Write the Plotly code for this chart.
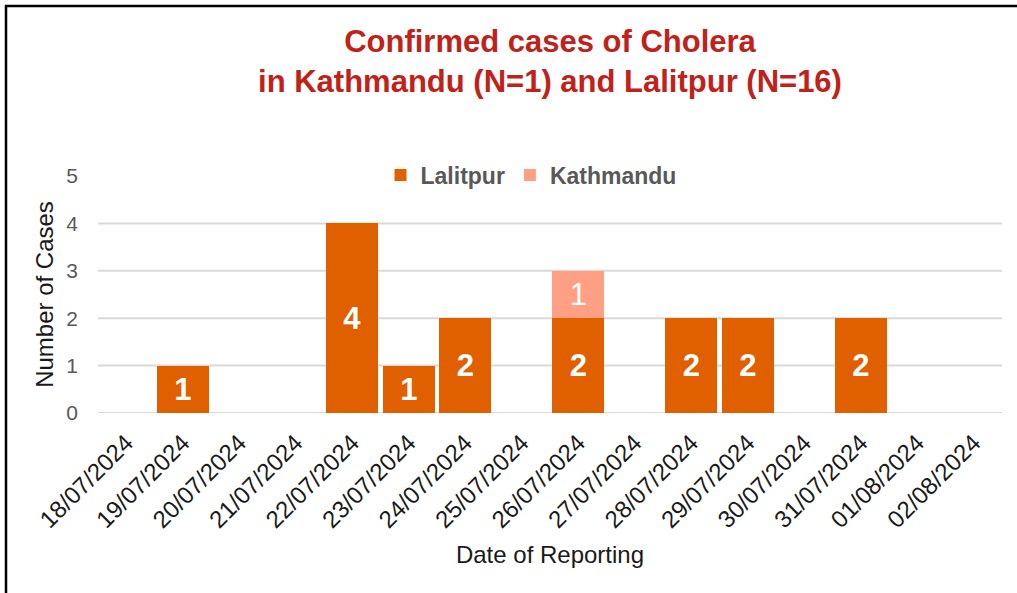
import plotly.graph_objects as go

dates = ["18/07/2024", "19/07/2024", "20/07/2024", "21/07/2024", "22/07/2024",
         "23/07/2024", "24/07/2024", "25/07/2024", "26/07/2024", "27/07/2024",
         "28/07/2024", "29/07/2024", "30/07/2024", "31/07/2024", "01/08/2024",
         "02/08/2024"]
lalitpur = [0, 1, 0, 0, 4, 1, 2, 0, 2, 0, 2, 2, 0, 2, 0, 0]
kathmandu = [0, 0, 0, 0, 0, 0, 0, 0, 1, 0, 0, 0, 0, 0, 0, 0]
y_ticks = [0, 1, 2, 3, 4, 5]

L, R, T, B = 98, 15, 176, 180
W, H = 1017, 593
pw, ph = W - L - R, H - T - B


def px(x):
    return (x - L) / pw


def py(y):
    return (H - B - y) / ph


fig = go.Figure()
fig.add_trace(go.Bar(
    x=dates, y=lalitpur, name="Lalitpur",
    marker=dict(color="#E06000", line=dict(width=0)),
    text=[str(v) if v else "" for v in lalitpur],
    textposition="inside", insidetextanchor="middle",
    textfont=dict(color="white", size=31, family="Liberation Sans", weight="bold"),
    textangle=0, constraintext="none",
))
fig.add_trace(go.Bar(
    x=dates, y=kathmandu, name="Kathmandu",
    marker=dict(color="#FFA084", line=dict(width=0)),
    text=[str(v) if v else "" for v in kathmandu],
    textposition="inside", insidetextanchor="middle",
    textfont=dict(color="white", size=31, family="Liberation Sans"),
    textangle=0, constraintext="none",
))

shapes = []
for v in y_ticks[:-1]:
    shapes.append(dict(type="line", xref="paper", yref="y", x0=0, x1=1, y0=v, y1=v,
                       line=dict(color="#D9D9D9", width=2), layer="below"))
# outer frame (top and left edges)
shapes.append(dict(type="line", xref="paper", yref="paper",
                   x0=px(5), x1=px(1017), y0=py(6), y1=py(6),
                   line=dict(color="black", width=2.5)))
shapes.append(dict(type="line", xref="paper", yref="paper",
                   x0=px(6), x1=px(6), y0=py(5), y1=py(600),
                   line=dict(color="black", width=2.5)))

fig.update_layout(
    width=W, height=H,
    margin=dict(l=L, r=R, t=T, b=B),
    paper_bgcolor="white", plot_bgcolor="white",
    barmode="stack", bargap=0.075,
    font=dict(family="Liberation Sans", color="#595959"),
    title=dict(
        text="Confirmed cases of Cholera<br>in Kathmandu (N=1) and Lalitpur (N=16)",
        x=0.5 * (L + W - R) / W, xref="container", xanchor="center",
        y=1 - 52 / H, yref="container", yanchor="top",
        font=dict(family="Liberation Sans", size=31, color="#C0221A", weight="bold"),
    ),
    legend=dict(
        orientation="h", x=0.479, xanchor="center", y=py(175), yanchor="middle",
        font=dict(size=23, color="#595959", weight="bold"),
        itemwidth=30, traceorder="normal", bgcolor="rgba(0,0,0,0)",
    ),
    xaxis=dict(
        type="category", tickangle=-45, showgrid=False, showline=False, zeroline=False,
        tickfont=dict(size=24, color="#1a1a1a"),
        title=dict(text="Date of Reporting", font=dict(size=24, color="#1a1a1a"), standoff=14),
        ticks="", ticklabelstandoff=10,
    ),
    yaxis=dict(
        range=[0, 5], tickvals=y_ticks, showgrid=False, zeroline=False, showline=False,
        tickfont=dict(size=21, color="#595959"),
        title=dict(text="Number of Cases", font=dict(size=24, color="#1a1a1a"), standoff=5),
        ticks="", ticklabelstandoff=19,
    ),
    shapes=shapes,
)

fig.write_html("out.html", config={"displayModeBar": False},
               post_script="document.body.style.margin='0';")
